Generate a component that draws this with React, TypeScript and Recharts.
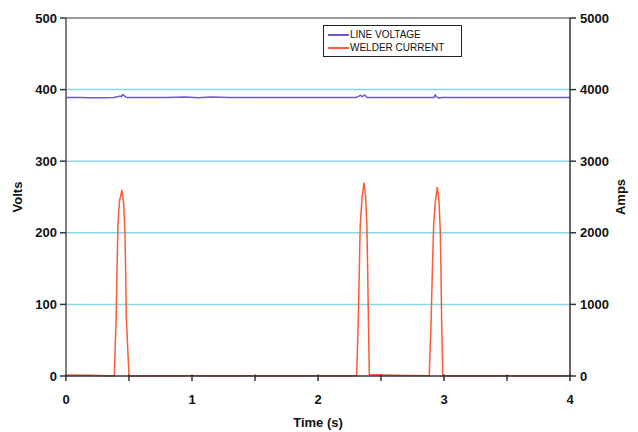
import React from 'react';
import { LineChart, Line, XAxis, YAxis, CartesianGrid, ReferenceLine, Label } from 'recharts';

const xTicks = [0, 0.5, 1, 1.5, 2, 2.5, 3, 3.5, 4];
const voltTicks = [0, 100, 200, 300, 400, 500];
const ampTicks = [0, 1000, 2000, 3000, 4000, 5000];

const voltTime = [0, 0.1, 0.2, 0.3, 0.38, 0.41, 0.43, 0.44, 0.45, 0.46, 0.48, 0.5, 0.6, 0.8, 0.95, 1.05, 1.15, 1.3, 1.5, 1.8, 2.0, 2.2, 2.3, 2.32, 2.34, 2.35, 2.37, 2.39, 2.42, 2.6, 2.8, 2.9, 2.92, 2.93, 2.94, 2.96, 2.98, 3.0, 3.2, 3.5, 3.8, 4.0];
const voltValues = [389, 389, 388.5, 388.5, 389, 390, 391, 390, 393, 392, 389, 389, 389, 389, 389.5, 388.5, 389.5, 389, 389, 389, 389, 389, 389, 390.5, 392, 390, 392.5, 389, 389, 389, 389, 389, 389, 392.5, 390, 388, 389, 389, 389, 389, 389, 389];

const ampTime = [0, 0.2, 0.383, 0.398, 0.405, 0.412, 0.425, 0.444, 0.458, 0.468, 0.474, 0.479, 0.5, 0.8, 1.5, 2.0, 2.307, 2.32, 2.328, 2.335, 2.35, 2.365, 2.378, 2.388, 2.394, 2.4, 2.407, 2.6, 2.883, 2.898, 2.908, 2.918, 2.932, 2.947, 2.96, 2.97, 2.976, 2.981, 2.99, 3.5, 4.0];
const ampValues = [15, 10, 0, 800, 1500, 2100, 2450, 2600, 2400, 2000, 1400, 800, 0, 5, 5, 5, 5, 800, 1500, 2100, 2500, 2700, 2500, 2100, 1500, 800, 20, 10, 5, 800, 1500, 2100, 2450, 2640, 2450, 2050, 1500, 800, 5, 5, 5];

const seriesNames = ['LINE VOLTAGE', 'WELDER CURRENT'];
const seriesColors = ['#6a5acd', '#ff5a36'];

const voltData = voltTime.map((t, i) => ({ t, v: voltValues[i] }));
const ampData = ampTime.map((t, i) => ({ t, a: ampValues[i] }));

const FONT = 'Arial, "Liberation Sans", sans-serif';
const tickStyle = { fontSize: 13, fontWeight: 700, fill: '#111', fontFamily: FONT };
const labelStyle = { fontSize: 13, fontWeight: 700, fill: '#111', fontFamily: FONT, textAnchor: 'middle' as const };

const XTick = (props: any) => {
  const { x, y, payload } = props;
  const isInt = Number.isInteger(payload.value);
  const axisY = y - 19;
  return (
    <g>
      <line x1={x} x2={x} y1={axisY - 1.5} y2={axisY + 5} stroke="#333" strokeWidth={1.5} />
      {isInt && (
        <text x={x} y={y} dy="0.71em" textAnchor="middle" {...tickStyle}>
          {payload.value}
        </text>
      )}
    </g>
  );
};

const LegendBox = () => (
  <div
    style={{
      position: 'absolute',
      left: 323,
      top: 25,
      border: '1.5px solid #222',
      width: 139,
      height: 32,
      boxSizing: 'border-box',
      background: '#fff',
      fontFamily: FONT,
      fontSize: 10,
      color: '#111',
      paddingTop: 2,
    }}
  >
    {seriesNames.map((n, i) => (
      <div key={n} style={{ display: 'flex', alignItems: 'center', height: 13, marginLeft: 4 }}>
        <div style={{ width: 21, height: 2, background: seriesColors[i] }} />
        <span style={{ marginLeft: 1 }}>{n}</span>
      </div>
    ))}
  </div>
);

export default function App() {
  return (
    <div style={{ position: 'absolute', left: 0, top: 0, width: 638, height: 432, background: '#fff' }}>
      <LineChart width={638} height={432} margin={{ top: 18, right: 0, bottom: 0, left: 0 }}>
        <CartesianGrid horizontal={true} vertical={false} stroke="#8fd3e8" strokeWidth={1.5} yAxisId="v" horizontalValues={[100, 200, 300, 400]} />
        <XAxis
          dataKey="t"
          type="number"
          domain={[0, 4]}
          ticks={xTicks}
          height={56}
          tickSize={5}
          tickMargin={14}
          tickLine={false}
          tick={<XTick />}
          axisLine={{ stroke: '#333', strokeWidth: 1.5 }}
          allowDuplicatedCategory={false}
        >
          <Label value="Time (s)" position="insideBottom" offset={5} style={labelStyle} />
        </XAxis>
        <YAxis
          yAxisId="v"
          orientation="left"
          domain={[0, 500]}
          ticks={voltTicks}
          width={66}
          tickSize={6}
          tickMargin={3}
          tick={tickStyle}
          tickLine={{ stroke: '#333', strokeWidth: 1.5 }}
          axisLine={{ stroke: '#555', strokeWidth: 1.5 }}
        >
          <Label value="Volts" angle={-90} position="insideLeft" offset={17} style={labelStyle} />
        </YAxis>
        <YAxis
          yAxisId="a"
          orientation="right"
          domain={[0, 5000]}
          ticks={ampTicks}
          width={68}
          tickSize={6}
          tickMargin={4}
          tick={tickStyle}
          tickLine={{ stroke: '#333', strokeWidth: 1.5 }}
          axisLine={{ stroke: '#333', strokeWidth: 1.5 }}
        >
          <Label value="Amps" angle={-90} position="insideRight" offset={18} style={labelStyle} />
        </YAxis>
        <ReferenceLine yAxisId="v" y={500} stroke="#777" strokeWidth={1.5} />
        <Line
          yAxisId="v"
          data={voltData}
          dataKey="v"
          name={seriesNames[0]}
          stroke={seriesColors[0]}
          strokeWidth={1.5}
          dot={false}
          isAnimationActive={false}
          type="linear"
        />
        <Line
          yAxisId="a"
          data={ampData}
          dataKey="a"
          name={seriesNames[1]}
          stroke={seriesColors[1]}
          strokeWidth={1.5}
          dot={false}
          isAnimationActive={false}
          type="linear"
        />
      </LineChart>
      <LegendBox />
    </div>
  );
}
